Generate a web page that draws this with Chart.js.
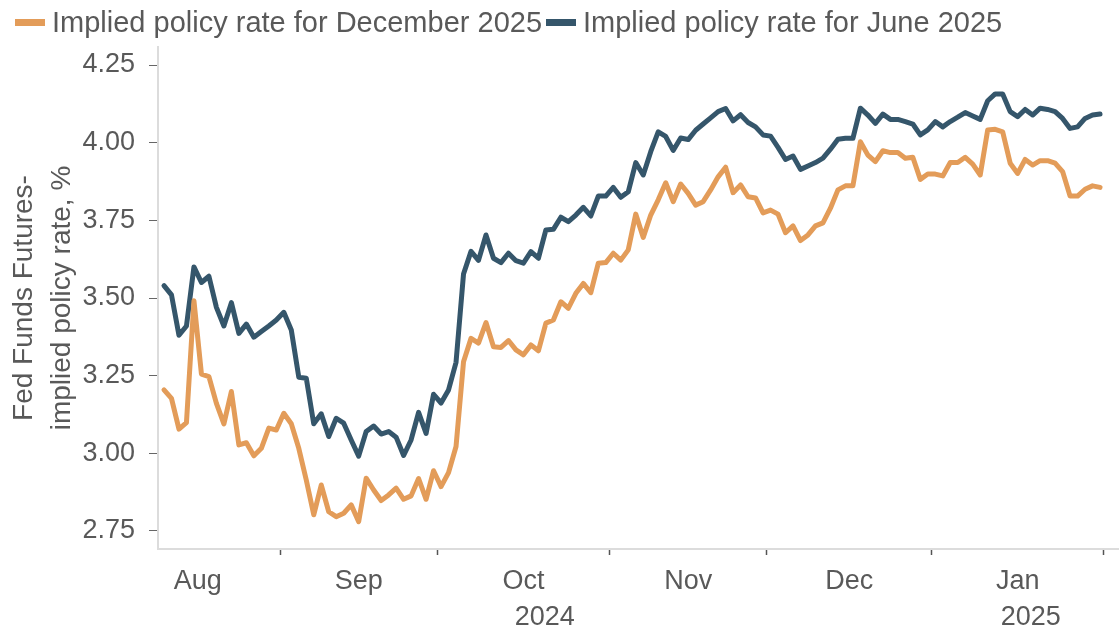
<!DOCTYPE html>
<html lang="en">
<head>
<meta charset="UTF-8">
<title>Implied policy rate</title>
<script src="https://cdn.jsdelivr.net/npm/chart.js"></script>
<style>
  body { margin: 0; background: #fff; font-family: 'Liberation Sans', Arial, sans-serif; }
  .wrap { position: relative; width: 1119px; height: 631px; }
  .legend { position: absolute; left: 15px; top: 4px; height: 36px; display: flex; align-items: center; font-size: 29px; color: #595959; white-space: nowrap; }
  .legend .item { display: flex; align-items: center; margin-right: 4px; }
  .legend .swatch { width: 30px; height: 7px; margin-right: 7px; }
</style>
</head>
<body>
<div class="wrap">
  <div class="legend" id="legend"></div>
  <canvas id="chart" width="1119" height="631"></canvas>
</div>
<script>
// calendar: weekdays shown on the axis, and first day of the series
const firstDay = '2024-08-01';
const lastDay = '2025-01-31';
const seriesStart = '2024-08-09';

const seriesNames = ['Implied policy rate for December 2025', 'Implied policy rate for June 2025'];
const colors = ['#e39c59', '#35566b'];

// implied rate for December 2025, one value per weekday from seriesStart
const dec2025 = [
  3.204, 3.177, 3.078, 3.099, 3.491, 3.255, 3.247, 3.161, 3.095, 3.199,
  3.027, 3.034, 2.992, 3.016, 3.081, 3.075, 3.129, 3.095, 3.016, 2.914,
  2.802, 2.898, 2.812, 2.796, 2.807, 2.834, 2.780, 2.920, 2.882, 2.848,
  2.866, 2.888, 2.852, 2.863, 2.919, 2.852, 2.944, 2.893, 2.938, 3.022,
  3.295, 3.370, 3.355, 3.421, 3.343, 3.341, 3.363, 3.333, 3.317, 3.349,
  3.330, 3.419, 3.429, 3.488, 3.467, 3.515, 3.547, 3.517, 3.612, 3.614,
  3.644, 3.622, 3.655, 3.770, 3.695, 3.767, 3.816, 3.871, 3.810, 3.867,
  3.837, 3.799, 3.810, 3.848, 3.890, 3.921, 3.839, 3.864, 3.826, 3.822,
  3.774, 3.783, 3.770, 3.710, 3.732, 3.685, 3.703, 3.732, 3.742, 3.789,
  3.848, 3.861, 3.861, 4.003, 3.960, 3.939, 3.974, 3.968, 3.968, 3.950,
  3.953, 3.882, 3.899, 3.899, 3.893, 3.936, 3.936, 3.953, 3.931, 3.896,
  4.041, 4.043, 4.035, 3.934, 3.901, 3.946, 3.928, 3.942, 3.942, 3.934,
  3.907, 3.828, 3.828, 3.850, 3.861, 3.856
];

// implied rate for June 2025
const jun2025 = [
  3.540, 3.510, 3.380, 3.410, 3.600, 3.550, 3.570, 3.470, 3.410, 3.485,
  3.386, 3.416, 3.374, 3.392, 3.410, 3.429, 3.454, 3.397, 3.245, 3.242,
  3.095, 3.127, 3.054, 3.113, 3.097, 3.043, 2.991, 3.070, 3.088, 3.062,
  3.070, 3.052, 2.993, 3.043, 3.132, 3.064, 3.190, 3.162, 3.204, 3.293,
  3.577, 3.650, 3.621, 3.703, 3.628, 3.614, 3.644, 3.620, 3.612, 3.649,
  3.628, 3.719, 3.721, 3.760, 3.746, 3.767, 3.792, 3.764, 3.828, 3.828,
  3.856, 3.824, 3.842, 3.936, 3.896, 3.971, 4.035, 4.020, 3.975, 4.015,
  4.010, 4.040, 4.060, 4.080, 4.100, 4.110, 4.070, 4.090, 4.065, 4.051,
  4.025, 4.021, 3.985, 3.946, 3.957, 3.914, 3.925, 3.936, 3.950, 3.979,
  4.011, 4.014, 4.014, 4.111, 4.089, 4.062, 4.092, 4.075, 4.075, 4.068,
  4.060, 4.025, 4.041, 4.068, 4.051, 4.068, 4.082, 4.097, 4.086, 4.075,
  4.135, 4.157, 4.157, 4.100, 4.084, 4.107, 4.089, 4.111, 4.107, 4.100,
  4.078, 4.046, 4.051, 4.078, 4.089, 4.092
];

const monthLabels = ['Aug', 'Sep', 'Oct', 'Nov', 'Dec', 'Jan'];
const yearLabels = ['2024', '2025'];
const yTicks = [2.75, 3.00, 3.25, 3.50, 3.75, 4.00, 4.25];

const fontFamily = "'Liberation Sans', Arial, sans-serif";
const textColor = '#595959';

// list the weekdays of the axis
const days = [];
for (let d = new Date(firstDay + 'T00:00:00Z'); d <= new Date(lastDay + 'T00:00:00Z'); d.setUTCDate(d.getUTCDate() + 1)) {
  const wd = d.getUTCDay();
  if (wd !== 0 && wd !== 6) days.push(d.toISOString().slice(0, 10));
}
const startIdx = days.indexOf(seriesStart);
const toPoints = vals => vals.map((v, i) => ({ x: startIdx + i + 0.5, y: v }));

// month boundaries (index of first weekday of each month)
const monthStarts = [];
days.forEach((d, i) => {
  if (i === 0 || d.slice(5, 7) !== days[i - 1].slice(5, 7)) monthStarts.push(i);
});
monthStarts.push(days.length);
const yearStart = days.findIndex(d => d.startsWith('2025'));

const xMin = 5.7, xMax = 133.9;

// x ticks: marks at month boundaries, labels at month / year centres
const xTicks = [];
monthStarts.forEach(k => { if (k > xMin && k < xMax) xTicks.push({ value: k, label: '', mark: true }); });
monthLabels.forEach((m, i) => xTicks.push({ value: (monthStarts[i] + monthStarts[i + 1]) / 2, label: m, mark: false }));
xTicks.push({ value: (xMin + yearStart) / 2, label: ['', yearLabels[0]], mark: false });
xTicks.push({ value: (yearStart + xMax) / 2 + 0.8, label: ['', yearLabels[1]], mark: false });
xTicks.sort((a, b) => a.value - b.value);

// legend
const legend = document.getElementById('legend');
seriesNames.forEach((name, i) => {
  const item = document.createElement('div');
  item.className = 'item';
  item.innerHTML = '<span class="swatch" style="background:' + colors[i] + '"></span><span>' + name + '</span>';
  legend.appendChild(item);
});

const ctx = document.getElementById('chart').getContext('2d');
new Chart(ctx, {
  type: 'line',
  data: {
    datasets: [
      { label: seriesNames[0], data: toPoints(dec2025), borderColor: colors[0], borderWidth: 5,
        pointRadius: 0, tension: 0, borderJoinStyle: 'round', borderCapStyle: 'round' },
      { label: seriesNames[1], data: toPoints(jun2025), borderColor: colors[1], borderWidth: 5,
        pointRadius: 0, tension: 0, borderJoinStyle: 'round', borderCapStyle: 'round' }
    ]
  },
  options: {
    responsive: false,
    animation: false,
    devicePixelRatio: 1,
    layout: { padding: { top: 47, right: 1, left: 0, bottom: 0 } },
    plugins: { legend: { display: false }, tooltip: { enabled: false } },
    scales: {
      x: {
        type: 'linear',
        min: xMin,
        max: xMax,
        afterBuildTicks: s => { s.ticks = xTicks.map(t => ({ value: t.value })); },
        afterFit: s => { s.height = 82; },
        ticks: {
          autoSkip: false, maxRotation: 0, padding: 9, color: textColor,
          font: { size: 27, family: fontFamily, lineHeight: 1.33 },
          callback: (v, i) => xTicks[i].label
        },
        grid: {
          drawOnChartArea: false, tickLength: 6, tickWidth: 1.5,
          tickColor: c => (xTicks[c.index] && xTicks[c.index].mark) ? '#555' : 'rgba(0,0,0,0)'
        },
        border: { color: '#dcdcdc', width: 2 }
      },
      y: {
        min: 2.692,
        max: 4.308,
        afterBuildTicks: s => { s.ticks = yTicks.map(v => ({ value: v })); },
        afterFit: s => { s.width = 158; },
        ticks: {
          padding: 14, color: textColor,
          font: { size: 27, family: fontFamily },
          callback: v => v.toFixed(2)
        },
        grid: { drawOnChartArea: false, tickLength: 9, tickWidth: 1, tickColor: '#666' },
        border: { color: '#dcdcdc', width: 2 },
        title: {
          display: true,
          text: ['Fed Funds Futures-', 'implied policy rate, %'],
          color: textColor,
          font: { size: 28, family: fontFamily, lineHeight: 1.33 },
          padding: { top: 6, bottom: 0 }
        }
      }
    }
  }
});
</script>
</body>
</html>
